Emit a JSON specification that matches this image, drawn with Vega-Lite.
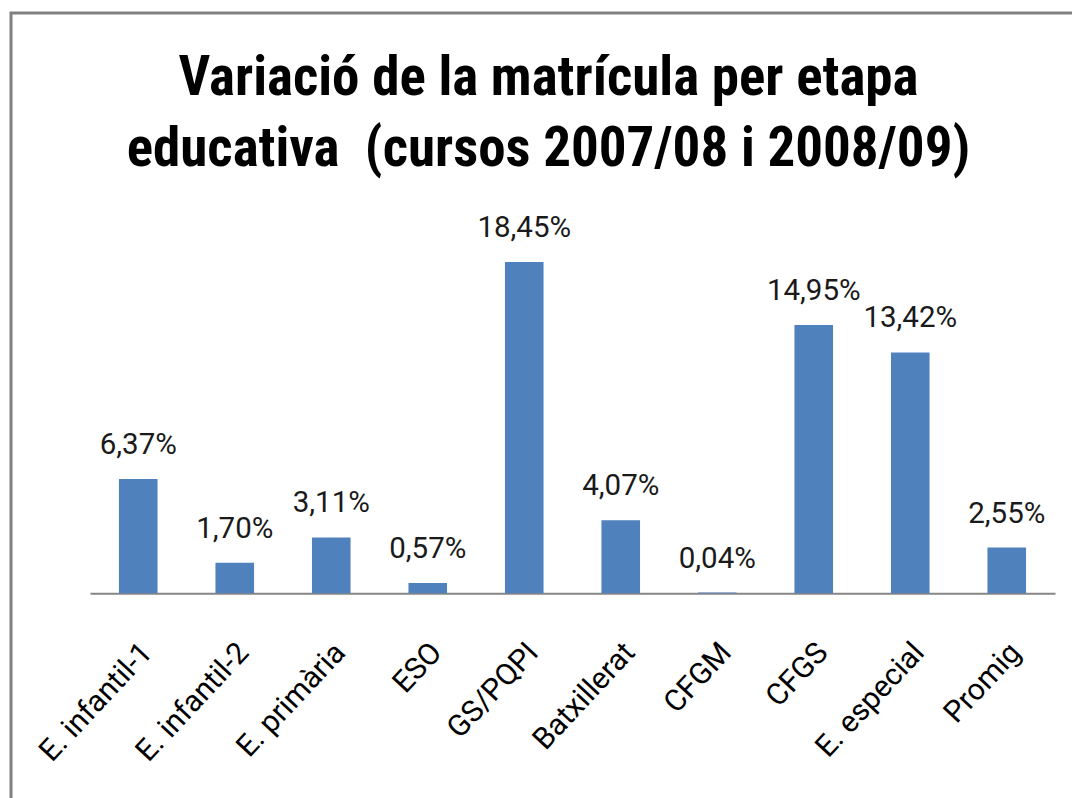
{
  "$schema": "https://vega.github.io/schema/vega-lite/v6.json",
  "autosize": {"type": "none"},
  "padding": {"left": 11, "top": 13, "right": 0, "bottom": 0},
  "width": 1061,
  "height": 785,
  "background": "white",
  "title": {
    "text": ["Variació de la matrícula per etapa", "educativa\u00a0 (cursos 2007/08 i 2008/09)"],
    "font": "Roboto Condensed, DejaVu Sans Condensed, Roboto",
    "fontSize": 55,
    "fontWeight": "bold",
    "color": "#000000",
    "lineHeight": 71,
    "anchor": "middle",
    "frame": "group",
    "offset": -165,
    "dx": 7
  },
  "data": {
    "values": [
      {"etapa": "E. infantil-1", "valor": 6.37, "etiqueta": "6,37%"},
      {"etapa": "E. infantil-2", "valor": 1.70, "etiqueta": "1,70%"},
      {"etapa": "E. primària", "valor": 3.11, "etiqueta": "3,11%"},
      {"etapa": "ESO", "valor": 0.57, "etiqueta": "0,57%"},
      {"etapa": "GS/PQPI", "valor": 18.45, "etiqueta": "18,45%"},
      {"etapa": "Batxillerat", "valor": 4.07, "etiqueta": "4,07%"},
      {"etapa": "CFGM", "valor": 0.04, "etiqueta": "0,04%"},
      {"etapa": "CFGS", "valor": 14.95, "etiqueta": "14,95%"},
      {"etapa": "E. especial", "valor": 13.42, "etiqueta": "13,42%"},
      {"etapa": "Promig", "valor": 2.55, "etiqueta": "2,55%"}
    ]
  },
  "encoding": {
    "x": {
      "field": "etapa",
      "type": "nominal",
      "sort": null,
      "scale": {"range": [79, 1044], "paddingInner": 0.6, "paddingOuter": 0.3},
      "axis": {
        "title": null,
        "orient": "bottom",
        "offset": -204.7,
        "domainColor": "#868686",
        "domainWidth": 2,
        "ticks": false,
        "labelAngle": -47,
        "labelAlign": "right",
        "labelBaseline": "middle",
        "labelPadding": 54,
        "labelOffset": 9,
        "labelFont": "Roboto",
        "labelFontSize": 30,
        "labelColor": "#000000",
        "labelLimit": 0,
        "labelOverlap": false,
        "grid": false
      }
    },
    "y": {
      "field": "valor",
      "type": "quantitative",
      "scale": {"domain": [0, 20], "range": [580.3, 221.3], "nice": false, "zero": true},
      "axis": null
    }
  },
  "layer": [
    {"mark": {"type": "bar", "color": "#4F81BD", "clip": false}},
    {
      "mark": {
        "type": "text",
        "baseline": "alphabetic",
        "align": "center",
        "dy": -25,
        "font": "Roboto",
        "fontSize": 29.5,
        "color": "#1a1a1a"
      },
      "encoding": {"text": {"field": "etiqueta"}}
    }
  ],
  "config": {
    "view": {
      "stroke": "#808080",
      "strokeWidth": 3,
      "strokeDash": [1061, 1846, 785]
    }
  }
}
